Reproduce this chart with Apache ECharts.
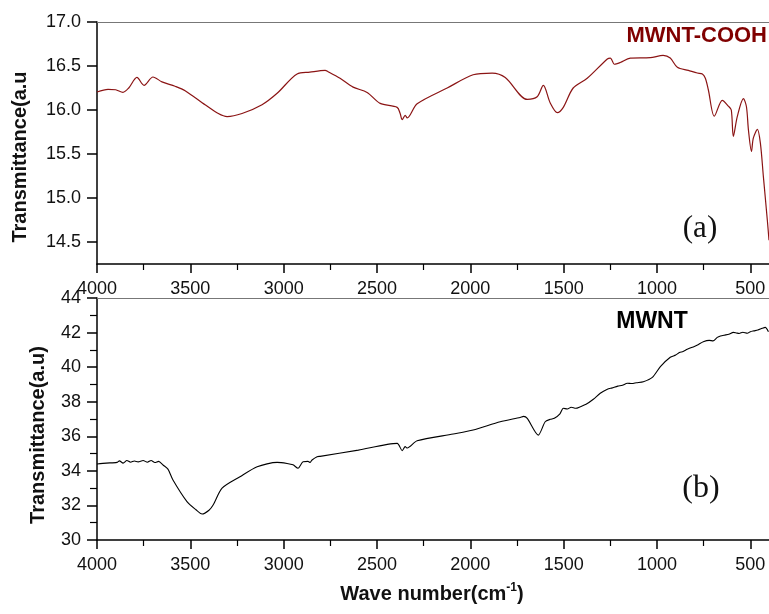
<!DOCTYPE html>
<html>
<head>
<meta charset="utf-8">
<script src="https://cdn.jsdelivr.net/npm/echarts@6/dist/echarts.min.js"></script>
<style>
html,body{margin:0;padding:0;background:#fff;}
#chart{width:769px;height:614px;}
</style>
</head>
<body>
<div id="chart"></div>
<script>
// ---- data ----
var coohWave = [4000,3941,3900,3861,3830,3786,3748,3700,3652,3582,3528,3421,3350,3303,3223,3116,3035,2928,2860,2778,2762,2698,2628,2553,2483,2392,2376,2365,2349,2338,2285,2124,1985,1883,1813,1695,1642,1609,1572,1534,1502,1449,1374,1266,1250,1240,1229,1197,1143,1036,967,929,891,832,784,757,741,725,693,650,618,602,591,570,537,521,510,494,484,462,446,430,409,400];
var coohValue = [16.205,16.235,16.23,16.20,16.25,16.37,16.28,16.375,16.32,16.27,16.22,16.06,15.96,15.925,15.96,16.06,16.19,16.41,16.43,16.45,16.435,16.36,16.26,16.20,16.075,16.03,15.96,15.89,15.94,15.91,16.07,16.25,16.40,16.42,16.37,16.12,16.15,16.28,16.08,15.97,16.03,16.25,16.36,16.58,16.59,16.56,16.52,16.54,16.59,16.595,16.62,16.59,16.485,16.45,16.42,16.41,16.36,16.23,15.93,16.11,16.045,16.0,15.70,15.925,16.13,16.04,15.77,15.53,15.68,15.78,15.62,15.24,14.75,14.52];

var mwntWave = [4000,3950,3893,3880,3860,3840,3820,3800,3780,3753,3730,3710,3690,3670,3646,3620,3593,3518,3470,3437,3400,3378,3330,3234,3142,3035,2982,2950,2923,2896,2870,2858,2848,2821,2805,2600,2392,2365,2349,2338,2285,2092,1985,1840,1733,1715,1695,1636,1599,1572,1550,1520,1502,1480,1460,1435,1411,1380,1341,1304,1266,1240,1210,1185,1159,1135,1110,1073,1025,982,929,900,880,860,838,800,780,752,720,700,677,660,640,615,591,575,560,540,516,500,480,460,436,420,403];
var mwntValue = [34.40,34.45,34.49,34.58,34.45,34.60,34.50,34.57,34.52,34.60,34.50,34.60,34.48,34.55,34.34,34.10,33.47,32.22,31.75,31.50,31.72,32.02,33.0,33.66,34.24,34.49,34.43,34.35,34.15,34.53,34.55,34.49,34.63,34.82,34.84,35.20,35.59,35.17,35.40,35.32,35.74,36.13,36.36,36.84,37.09,37.15,37.04,36.07,36.84,36.98,37.04,37.30,37.62,37.58,37.68,37.62,37.71,37.85,38.14,38.49,38.72,38.80,38.90,38.95,39.07,39.05,39.10,39.16,39.41,40.03,40.57,40.70,40.85,40.90,41.03,41.20,41.30,41.47,41.55,41.52,41.72,41.80,41.85,41.90,42.01,41.98,41.95,42.02,41.96,42.05,42.10,42.15,42.25,42.30,42.05];

var xMajorTicks = [500,1000,1500,2000,2500,3000,3500,4000];
var xMinorTicks = [750,1250,1750,2250,2750,3250,3750];
var topYMajor = [14.5,15.0,15.5,16.0,16.5,17.0];
var topYMinor = [14.25,14.75,15.25,15.75,16.25,16.75];

function pairs(xs, ys){ return xs.map(function(x,i){ return [x, ys[i]]; }); }

var FONT = '"Liberation Sans", Arial, sans-serif';
var labelStyle = {color:'#111', fontSize:18, fontFamily:FONT};

function xMain(g){
  return {gridIndex:g, type:'value', min:400, max:4000, inverse:true, position:'bottom',
    axisLine:{show:true, lineStyle:{color:'#000', width:1.5}},
    axisTick:{show:true, length:9, customValues:xMajorTicks, lineStyle:{color:'#000', width:1.5}},
    axisLabel:Object.assign({margin:16, customValues:xMajorTicks, formatter:function(v){return String(v);}}, labelStyle),
    splitLine:{show:false}};
}
function xMinor(g){
  return {gridIndex:g, type:'value', min:400, max:4000, inverse:true, position:'bottom',
    axisLine:{show:false},
    axisTick:{show:true, length:6, customValues:xMinorTicks, lineStyle:{color:'#000', width:1.2}},
    axisLabel:{show:false}, splitLine:{show:false}};
}
function xTop(g){
  return {gridIndex:g, type:'value', min:400, max:4000, inverse:true, position:'top',
    axisLine:{show:true, lineStyle:{color:'#777', width:1}},
    axisTick:{show:false}, axisLabel:{show:false}, splitLine:{show:false}};
}

var chart = echarts.init(document.getElementById('chart'), null, {renderer:'canvas'});
chart.setOption({
  animation:false,
  backgroundColor:'#fff',
  grid:[
    {left:97, top:22, right:0, height:242, containLabel:false},
    {left:97, top:298, right:0, height:242, containLabel:false}
  ],
  xAxis:[xMain(0), xMinor(0), xTop(0), xMain(1), xMinor(1), xTop(1)],
  yAxis:[
    {gridIndex:0, type:'value', min:14.25, max:17.0,
      axisLine:{show:true, lineStyle:{color:'#000', width:1.5}},
      axisTick:{show:true, length:10, customValues:topYMajor, lineStyle:{color:'#000', width:1.5}},
      axisLabel:Object.assign({margin:16, customValues:topYMajor, formatter:function(v){return v.toFixed(1);}}, labelStyle),
      splitLine:{show:false}},
    {gridIndex:0, type:'value', min:14.25, max:17.0,
      axisLine:{show:false},
      axisTick:{show:true, length:7, customValues:topYMinor, lineStyle:{color:'#000', width:1.2}},
      axisLabel:{show:false}, splitLine:{show:false}},
    {gridIndex:1, type:'value', min:30, max:44, interval:2,
      axisLine:{show:true, lineStyle:{color:'#000', width:1.5}},
      axisTick:{show:true, length:10, lineStyle:{color:'#000', width:1.5}},
      minorTick:{show:true, splitNumber:2, length:7, lineStyle:{color:'#000', width:1.2}},
      axisLabel:Object.assign({margin:16}, labelStyle),
      splitLine:{show:false}, minorSplitLine:{show:false}}
  ],
  series:[
    {name:'MWNT-COOH', type:'line', xAxisIndex:0, yAxisIndex:0, data:pairs(coohWave, coohValue),
      showSymbol:false, smooth:0.3, lineStyle:{color:'#8b1414', width:1.2}},
    {name:'MWNT', type:'line', xAxisIndex:3, yAxisIndex:2, data:pairs(mwntWave, mwntValue),
      showSymbol:false, smooth:0.25, lineStyle:{color:'#000', width:1.1}}
  ],
  graphic:[
    {type:'text', x:20, y:157, rotation:Math.PI/2, style:{text:'Transmittance(a.u', font:'bold 20px '+FONT, fill:'#111', align:'center', verticalAlign:'middle'}},
    {type:'text', x:38, y:435, rotation:Math.PI/2, style:{text:'Transmittance(a.u)', font:'bold 20px '+FONT, fill:'#111', align:'center', verticalAlign:'middle'}},
    {type:'text', x:432, y:594, style:{text:'Wave number(cm{sup|-1})', font:'bold 20px '+FONT, fill:'#111', align:'center', verticalAlign:'middle',
      rich:{sup:{font:'bold 12px '+FONT, fill:'#111', verticalAlign:'top', padding:[0,0,12,0]}}}},
    {type:'text', x:767, y:36, style:{text:'MWNT-COOH', font:'bold 22px '+FONT, fill:'#800000', align:'right', verticalAlign:'middle'}},
    {type:'text', x:652, y:322, style:{text:'MWNT', font:'bold 23px '+FONT, fill:'#000', align:'center', verticalAlign:'middle'}},
    {type:'text', x:700, y:229, style:{text:'(a)', font:'31px "Liberation Serif", "Times New Roman", serif', fill:'#111', align:'center', verticalAlign:'middle'}},
    {type:'text', x:701, y:489, style:{text:'(b)', font:'32px "Liberation Serif", "Times New Roman", serif', fill:'#111', align:'center', verticalAlign:'middle'}}
  ]
});
</script>
</body>
</html>
